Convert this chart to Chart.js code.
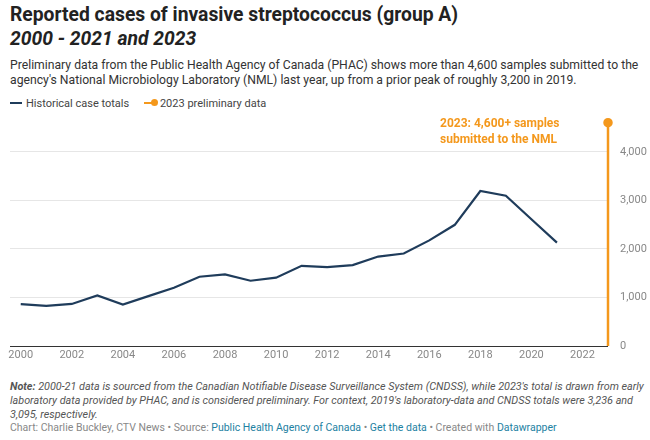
<!DOCTYPE html>
<html>
<head>
<meta charset="utf-8">
<script src="https://cdn.jsdelivr.net/npm/chart.js@4/dist/chart.umd.min.js"></script>
<style>
  body { margin: 0; background: #fff; font-family: Roboto, "Noto Sans", sans-serif; color: #333; }
  #wrap { position: relative; width: 650px; height: 440px; overflow: hidden; }
  .abs { position: absolute; left: 10px; white-space: nowrap; }
  #title { top: 3px; font-size: 19.3px; font-weight: 700; line-height: 24px; color: #222; }
  #title i { font-style: italic; }
  #sub { top: 58px; font-size: 12.2px; line-height: 15px; color: #333; }
  #legend { top: 97px; font-size: 11px; color: #444; }
  #legend span.item { margin-right: 12px; }
  .sw { display: inline-block; vertical-align: middle; position: relative; width: 12px; height: 2px; margin-right: 4px; top: -1px; }
  .dot { position: absolute; right: -2px; top: -3px; width: 7px; height: 7px; border-radius: 50%; background: #f4981c; }
  #chartBox { position: absolute; left: 0; top: 110px; width: 650px; height: 260px; }
  #note { top: 380px; font-size: 10.8px; line-height: 14px; color: #555; font-style: italic; }
  #foot { top: 421px; font-size: 10.5px; color: #888; }
  #foot a { color: #1d81a2; text-decoration: none; }
</style>
</head>
<body>
<div id="wrap">
  <div id="title" class="abs">Reported cases of invasive streptococcus (group A)<br><i>2000 - 2021 and 2023</i></div>
  <div id="sub" class="abs">Preliminary data from the Public Health Agency of Canada (PHAC) shows more than 4,600 samples submitted to the<br>agency's National Microbiology Laboratory (NML) last year, up from a prior peak of roughly 3,200 in 2019.</div>
  <div id="legend" class="abs">
    <span class="item"><span class="sw" style="background:#1f3c5b"></span>Historical case totals</span>
    <span class="item"><span class="sw" style="background:#f4981c"><span class="dot"></span></span>2023 preliminary data</span>
  </div>
  <div id="chartBox"><canvas id="chart"></canvas></div>
  <div id="note" class="abs"><b>Note:</b> 2000-21 data is sourced from the Canadian Notifiable Disease Surveillance System (CNDSS), while 2023's total is drawn from early<br>laboratory data provided by PHAC, and is considered preliminary. For context, 2019's laboratory-data and CNDSS totals were 3,236 and<br>3,095, respectively.</div>
  <div id="foot" class="abs">Chart: Charlie Buckley, CTV News • Source: <a>Public Health Agency of Canada</a> • <a>Get the data</a> • Created with <a>Datawrapper</a></div>
</div>
<script>
// Data
const years = [2000, 2001, 2002, 2003, 2004, 2005, 2006, 2007, 2008, 2009, 2010,
               2011, 2012, 2013, 2014, 2015, 2016, 2017, 2018, 2019, 2020, 2021];
const cases = [862, 828, 866, 1040, 855, 1028, 1200, 1427, 1475, 1345, 1408,
               1652, 1627, 1668, 1843, 1906, 2176, 2497, 3193, 3097, 2610, 2131];
const prelimYear = 2023;
const prelimValue = 4600;
const xTicks = [2000, 2002, 2004, 2006, 2008, 2010, 2012, 2014, 2016, 2018, 2020, 2022];
const yTicks = [0, 1000, 2000, 3000, 4000];
const annotation = ['2023: 4,600+ samples', 'submitted to the NML'];

const NAVY = '#1f3c5b';
const ORANGE = '#f4981c';

// annotation text beside the 2023 marker
const labelPlugin = {
  id: 'prelimLabel',
  afterDatasetsDraw(chart) {
    const c = chart.ctx;
    const x = chart.scales.x.getPixelForValue(prelimYear);
    const y = chart.scales.y.getPixelForValue(prelimValue);
    c.save();
    c.font = 'bold 12px Roboto';
    c.fillStyle = ORANGE;
    c.textAlign = 'left';
    c.textBaseline = 'middle';
    c.fillText(annotation[0], x - 168, y + 1);
    c.fillText(annotation[1], x - 168, y + 17);
    c.restore();
  }
};

const ctx = document.getElementById('chart').getContext('2d');
const chart = new Chart(ctx, {
  type: 'line',
  data: {
    datasets: [{
      label: 'Historical case totals',
      data: years.map((yr, i) => ({ x: yr, y: cases[i] })),
      borderColor: NAVY,
      borderWidth: 2.2,
      pointRadius: 0,
      tension: 0,
      fill: false
    }, {
      label: '2023 preliminary data',
      data: [{ x: prelimYear, y: 0 }, { x: prelimYear, y: prelimValue }],
      borderColor: ORANGE,
      backgroundColor: ORANGE,
      borderWidth: 2.5,
      pointRadius: [0, 3.5],
      clip: false
    }]
  },
  options: {
    responsive: true,
    maintainAspectRatio: false,
    animation: false,
    layout: { padding: { top: 12, bottom: 2, left: 10, right: 0 } },
    plugins: {
      legend: { display: false },
      tooltip: { enabled: false }
    },
    scales: {
      x: {
        type: 'linear',
        min: 1999.58,
        max: 2023,
        afterBuildTicks: s => { s.ticks = xTicks.map(v => ({ value: v })); },
        afterFit: s => { s.height = 22; s.paddingLeft = 0; s.paddingRight = 0; },
        grid: { display: false, drawTicks: false },
        border: { display: false },
        ticks: {
          color: '#888',
          font: { family: 'Roboto', size: 11 },
          padding: 3,
          maxRotation: 0,
          autoSkip: false,
          callback: v => String(v)
        }
      },
      y: {
        position: 'right',
        min: 0,
        max: 4615,
        afterBuildTicks: s => { s.ticks = yTicks.map(v => ({ value: v })); },
        afterFit: s => { s.width = 42; s.paddingTop = 0; s.paddingBottom = 0; },
        border: { display: false },
        grid: {
          drawTicks: false,
          color: c => c.tick && c.tick.value === 0 ? '#333' : '#e6e6e6',
          lineWidth: 1
        },
        ticks: {
          color: '#888',
          font: { family: 'Roboto', size: 11 },
          padding: 12,
          callback: v => v.toLocaleString('en-US')
        }
      }
    }
  },
  plugins: [labelPlugin]
});
</script>
</body>
</html>
